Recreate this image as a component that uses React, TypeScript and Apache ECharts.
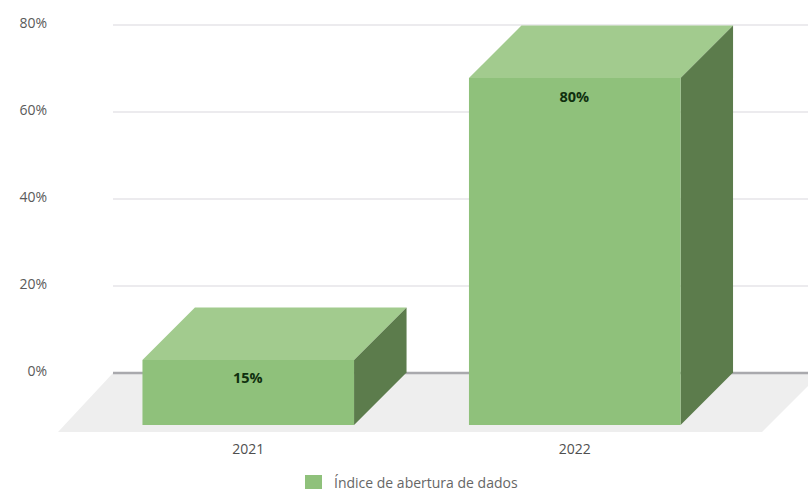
import React, { useEffect, useRef } from "react";
import * as echarts from "echarts";

const categories = ["2021", "2022"];
const seriesName = "Índice de abertura de dados";
const values = [15, 80];
const yMin = 0;
const yMax = 80;
const yStep = 20;
const floorExtent = [[0, 1]];

const DEPTH = 52.5;
const FLOOR_DEPTH = 59;
const FONT = '"Open Sans", sans-serif';
const FRONT = "#8fc17b";
const TOP = "#a2cb8e";
const SIDE = "#5c7c4c";

export default function App() {
  const ref = useRef<HTMLDivElement>(null);
  useEffect(() => {
    const chart = echarts.init(ref.current!, undefined, { renderer: "svg" });
    chart.setOption({
      animation: false,
      backgroundColor: "#ffffff",
      legend: {
        left: 305,
        top: 475,
        itemWidth: 17,
        itemHeight: 14,
        itemGap: 8,
        padding: 0,
        data: [{ name: seriesName, icon: "rect", itemStyle: { color: FRONT } }],
        textStyle: { fontFamily: FONT, fontSize: 14, color: "#666666", padding: [0, 0, 4, 7] },
      },
      grid: [
        { left: 113, right: 0, top: 25, height: 348 },
        { left: 85, width: 653, top: 78, height: 347 },
      ],
      xAxis: [
        { type: "value", gridIndex: 0, min: 0, max: 1, show: false },
        {
          type: "category",
          gridIndex: 1,
          data: categories,
          axisLine: { show: false },
          axisTick: { show: false },
          axisLabel: { fontFamily: FONT, fontSize: 14, color: "#4f4f4f", margin: 16 },
        },
      ],
      yAxis: [
        {
          type: "value",
          gridIndex: 0,
          min: yMin,
          max: yMax,
          interval: yStep,
          axisLine: { show: false },
          axisTick: { show: false },
          axisLabel: {
            fontFamily: FONT,
            fontSize: 14,
            color: "#5a5a5a",
            margin: 66,
            formatter: "{value}%",
            verticalAlign: "bottom",
            lineHeight: 6,
          },
          splitLine: { lineStyle: { color: "#e6e5e8", width: 1.5 } },
        },
        { type: "value", gridIndex: 1, min: yMin, max: yMax, show: false },
      ],
      series: [
        {
          type: "custom",
          name: "floor",
          xAxisIndex: 0,
          yAxisIndex: 0,
          clip: false,
          silent: true,
          data: floorExtent,
          encode: { x: [0, 1] },
          renderItem: (_p: any, api: any) => {
            const a = api.coord([api.value(0), 0]);
            const b = api.coord([api.value(1), 0]);
            return {
              type: "group",
              children: [
                {
                  type: "polygon",
                  shape: {
                    points: [
                      a,
                      [b[0] + 13, b[1]],
                      [b[0] + 13 - FLOOR_DEPTH, b[1] + FLOOR_DEPTH],
                      [a[0] - FLOOR_DEPTH + 4, a[1] + FLOOR_DEPTH],
                    ],
                  },
                  style: { fill: "#eeeeee" },
                },
                {
                  type: "line",
                  shape: { x1: a[0], y1: a[1], x2: b[0], y2: b[1] },
                  style: { stroke: "#a9a9ad", lineWidth: 2.5 },
                },
              ],
            };
          },
        },
        {
          type: "custom",
          name: seriesName,
          xAxisIndex: 1,
          yAxisIndex: 1,
          clip: false,
          data: categories.map((c, i) => [i, values[i]]),
          encode: { x: 0, y: 1 },
          itemStyle: { color: FRONT },
          renderItem: (_p: any, api: any) => {
            const v = api.value(1);
            const base = api.coord([api.value(0), 0]);
            const top = api.coord([api.value(0), v]);
            const w = api.size([1, 0])[0] * 0.648;
            const l = base[0] - w / 2;
            const r = base[0] + w / 2;
            return {
              type: "group",
              children: [
                {
                  type: "polygon",
                  shape: {
                    points: [
                      [l, top[1]],
                      [l + DEPTH, top[1] - DEPTH],
                      [r + DEPTH, top[1] - DEPTH],
                      [r, top[1]],
                    ],
                  },
                  style: { fill: TOP },
                },
                {
                  type: "polygon",
                  shape: {
                    points: [
                      [r, top[1]],
                      [r + DEPTH, top[1] - DEPTH],
                      [r + DEPTH, base[1] - DEPTH],
                      [r, base[1]],
                    ],
                  },
                  style: { fill: SIDE },
                },
                {
                  type: "rect",
                  shape: { x: l, y: top[1], width: w, height: base[1] - top[1] },
                  style: { fill: FRONT },
                },
                {
                  type: "text",
                  x: base[0] - 0.5,
                  y: top[1] + 18,
                  style: {
                    text: `${v}%`,
                    fontFamily: FONT,
                    fontSize: 14.5,
                    fontWeight: "bold",
                    fill: "#10300f",
                    align: "center",
                    verticalAlign: "middle",
                  },
                },
              ],
            };
          },
        },
      ],
    });
    return () => chart.dispose();
  }, []);
  return <div ref={ref} style={{ width: 808, height: 491, position: "absolute", left: 0, top: 0 }} />;
}
